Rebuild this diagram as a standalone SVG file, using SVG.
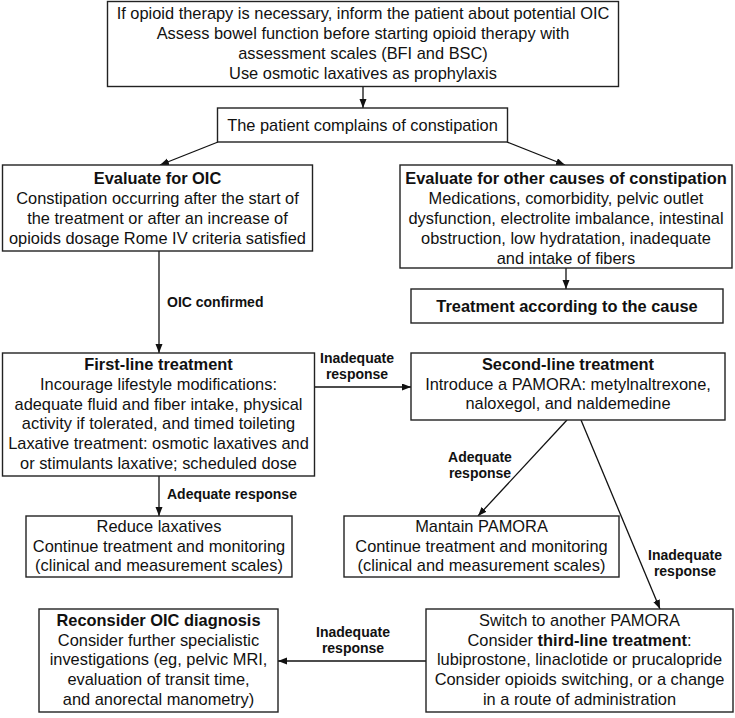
<svg xmlns="http://www.w3.org/2000/svg" width="735" height="718" viewBox="0 0 735 718">
<defs>
<marker id="ah" markerUnits="userSpaceOnUse" markerWidth="10" markerHeight="8" refX="9" refY="3.5" orient="auto">
<path d="M0,0 L9,3.5 L0,7 Z" fill="#111"/>
</marker>
<style>
rect{fill:#fff;stroke:#222;stroke-width:1.4}
text{font-family:"Liberation Sans",Arial,sans-serif;font-size:16.4px;fill:#111;text-anchor:middle}
.b{font-weight:bold}
.lb{font-weight:bold;font-size:14px}
.st{text-anchor:start}
#connectors line{stroke:#111;stroke-width:1.3;marker-end:url(#ah)}
</style>
</defs>
<rect x="0" y="0" width="735" height="718" style="fill:#fff;stroke:none"/>
<g id="connectors">
<line x1="363" y1="86.5" x2="363" y2="108"/>
<line x1="218" y1="142" x2="160" y2="165"/>
<line x1="507" y1="142" x2="565" y2="165"/>
<line x1="566" y1="268" x2="566" y2="289"/>
<line x1="159" y1="251" x2="159" y2="353"/>
<line x1="314.5" y1="387" x2="411" y2="387"/>
<line x1="159" y1="476" x2="159" y2="516"/>
<line x1="567" y1="420" x2="478" y2="516"/>
<line x1="581" y1="420" x2="660" y2="609"/>
<line x1="426" y1="661" x2="278" y2="661"/>
</g>
<g id="labels">
<text class="lb st" x="167" y="307">OIC confirmed</text>
<text class="lb" x="357" y="363">Inadequate</text>
<text class="lb" x="357" y="379">response</text>
<text class="lb st" x="167" y="499">Adequate response</text>
<text class="lb" x="480" y="462">Adequate</text>
<text class="lb" x="480" y="478">response</text>
<text class="lb" x="685" y="560">Inadequate</text>
<text class="lb" x="685" y="576">response</text>
<text class="lb" x="353" y="637">Inadequate</text>
<text class="lb" x="353" y="653">response</text>
</g>
<g id="n1">
<rect x="107.5" y="1.5" width="511" height="85"/>
<text x="363" y="19">If opioid therapy is necessary, inform the patient about potential OIC</text>
<text x="363" y="39">Assess bowel function before starting opioid therapy with</text>
<text x="363" y="59">assessment scales (BFI and BSC)</text>
<text x="363" y="79">Use osmotic laxatives as prophylaxis</text>
</g>
<g id="n2">
<rect x="217.5" y="108" width="290" height="34"/>
<text x="362.5" y="130.5">The patient complains of constipation</text>
</g>
<g id="n3">
<rect x="2.5" y="165" width="310" height="86"/>
<text class="b" x="157.5" y="184">Evaluate for OIC</text>
<text x="157.5" y="204">Constipation occurring after the start of</text>
<text x="157.5" y="224">the treatment or after an increase of</text>
<text x="157.5" y="244">opioids dosage Rome IV criteria satisfied</text>
</g>
<g id="n4">
<rect x="400" y="165" width="332" height="103"/>
<text class="b" x="566" y="184">Evaluate for other causes of constipation</text>
<text x="566" y="204">Medications, comorbidity, pelvic outlet</text>
<text x="566" y="224">dysfunction, electrolite imbalance, intestinal</text>
<text x="566" y="244">obstruction, low hydratation, inadequate</text>
<text x="566" y="264">and intake of fibers</text>
</g>
<g id="n5">
<rect x="411" y="289" width="312" height="34"/>
<text class="b" x="567" y="312">Treatment according to the cause</text>
</g>
<g id="n6">
<rect x="2.5" y="353" width="312" height="123"/>
<text class="b" x="158.5" y="370">First-line treatment</text>
<text x="158.5" y="389.8">Incourage lifestyle modifications:</text>
<text x="158.5" y="409.6">adequate fluid and fiber intake, physical</text>
<text x="158.5" y="429.4">activity if tolerated, and timed toileting</text>
<text x="158.5" y="449.2">Laxative treatment: osmotic laxatives and</text>
<text x="158.5" y="469">or stimulants laxative; scheduled dose</text>
</g>
<g id="n7">
<rect x="411" y="353" width="314" height="67"/>
<text class="b" x="568" y="370">Second-line treatment</text>
<text x="568" y="389.7">Introduce a PAMORA: metylnaltrexone,</text>
<text x="568" y="409.4">naloxegol, and naldemedine</text>
</g>
<g id="n8">
<rect x="26" y="516" width="266" height="61"/>
<text x="159" y="532">Reduce laxatives</text>
<text x="159" y="551.5">Continue treatment and monitoring</text>
<text x="159" y="571">(clinical and measurement scales)</text>
</g>
<g id="n9">
<rect x="344" y="516" width="275" height="61"/>
<text x="481.5" y="532">Mantain PAMORA</text>
<text x="481.5" y="551.5">Continue treatment and monitoring</text>
<text x="481.5" y="571">(clinical and measurement scales)</text>
</g>
<g id="n10">
<rect x="39" y="609" width="239" height="103"/>
<text class="b" x="158.5" y="626">Reconsider OIC diagnosis</text>
<text x="158.5" y="645.7">Consider further specialistic</text>
<text x="158.5" y="665.4">investigations (eg, pelvic MRI,</text>
<text x="158.5" y="685.1">evaluation of transit time,</text>
<text x="158.5" y="704.8">and anorectal manometry)</text>
</g>
<g id="n11">
<rect x="426" y="609" width="307" height="103"/>
<text x="579.5" y="626">Switch to another PAMORA</text>
<text x="579.5" y="645.7">Consider <tspan class="b">third-line treatment</tspan>:</text>
<text x="579.5" y="665.4">lubiprostone, linaclotide or prucalopride</text>
<text x="579.5" y="685.1">Consider opioids switching, or a change</text>
<text x="579.5" y="704.8">in a route of administration</text>
</g>
</svg>
